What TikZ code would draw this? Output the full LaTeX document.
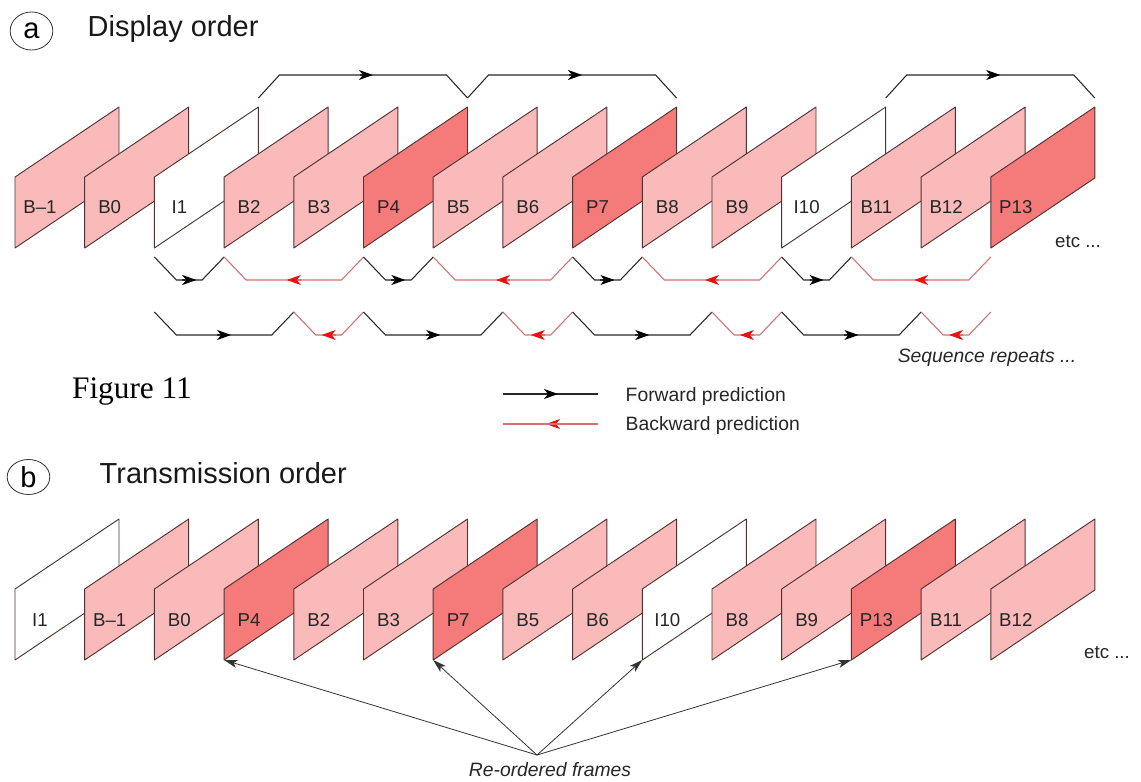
\documentclass[tikz,border=0pt]{standalone}
\usepackage{fontspec}
\setmainfont{Liberation Sans}
\newfontfamily\figfont{Liberation Serif}
\usetikzlibrary{arrows.meta,calc,shapes.geometric}

\definecolor{bfill}{RGB}{250,186,186}
\definecolor{pfill}{RGB}{245,122,122}
\definecolor{fedge}{RGB}{80,50,50}
\definecolor{fwdline}{RGB}{40,40,40}
\definecolor{bwdline}{RGB}{212,112,112}
\definecolor{bwdtip}{RGB}{228,18,18}

\tikzset{
  frame/.style={draw=fedge, line width=0.7pt, line join=round},
  flabel/.style={font=\fontsize{14}{14}\selectfont, text=black!85},
  small/.style={font=\fontsize{14.5}{14.5}\selectfont, text=black!85},
  title/.style={font=\fontsize{21.75}{22}\selectfont, text=black!90, anchor=west},
  tag/.style={draw=black!80, line width=0.6pt, ellipse, inner sep=0pt,
    minimum width=32pt, font=\fontsize{21.75}{22}\selectfont},
  fwd/.style={draw=fwdline, line width=0.8pt},
  bwd/.style={draw=bwdline, line width=0.8pt},
  fwdtip/.style={fwd, -{Stealth[length=10.5pt, width=7.5pt, inset=3pt, color=black]}},
  bwdtip/.style={bwd, {Stealth[length=10.5pt, width=7.5pt, inset=3pt, color=bwdtip]}-},
  reorder/.style={draw=black!80, line width=0.6pt, -{Stealth[length=10pt, width=6pt, inset=2.5pt]}}
}

\begin{document}
\begin{tikzpicture}[x=0.75pt, y=-0.75pt]
  \useasboundingbox (0,0) rectangle (1141,781);

  % (a) display order
  \node[tag, minimum height=28.5pt] (taga) at (31.5,31) {a};
  \node[title] (titlea) at (83,29) {Display order};
  \foreach \lab/\col [count=\i from 0] in {B\textendash1/bfill, B0/bfill, I1/white, B2/bfill, B3/bfill, P4/pfill, B5/bfill, B6/bfill, P7/pfill, B8/bfill, B9/bfill, I10/white, B11/bfill, B12/bfill, P13/pfill} {
    \pgfmathsetmacro\fx{15+69.7*\i}
    \filldraw[frame, fill=\col] (\fx,248) -- ++(0,-71) -- ++(104,-70) -- ++(0,71) -- cycle;
    \node[flabel] (a\i) at (\fx+25,207) {\lab};
    \coordinate (ta\i) at (\fx+104,98);
    \coordinate (pa\i) at (\fx,257);
    \coordinate (qa\i) at (\fx,312);
  }
  \node[flabel] (etca) at (1078,242) {etc ...};

  % forward jumps over the top
  \foreach \s/\e in {2/5, 5/8, 11/14} {
    \draw[fwd] (ta\s) -- ++(21,-23) -- ($(ta\e)+(-21,-23)$) -- (ta\e);
    \draw[fwdtip] ($(ta\s)!0.5!(ta\e)+(-3,-23)$) -- ($(ta\s)!0.5!(ta\e)+(10,-23)$);
  }

  % prediction rows
  \foreach \r/\s/\e/\k in {pa/2/3/fwd, pa/3/5/bwd, pa/5/6/fwd, pa/6/8/bwd, pa/8/9/fwd, pa/9/11/bwd, pa/11/12/fwd, pa/12/14/bwd,
                           qa/2/4/fwd, qa/4/5/bwd, qa/5/7/fwd, qa/7/8/bwd, qa/8/10/fwd, qa/10/11/bwd, qa/11/13/fwd, qa/13/14/bwd} {
    \draw[\k] (\r\s) -- ++(22,23) -- ($(\r\e)+(-22,23)$) -- (\r\e);
    \draw[\k tip] ($(\r\s)!0.5!(\r\e)+(-7,23)$) -- ($(\r\s)!0.5!(\r\e)+(7,23)$);
  }
  \node[small, font=\fontsize{14.5}{14.5}\selectfont\itshape] (seq) at (987,358) {Sequence repeats ...};

  \node[font=\figfont\fontsize{23.5}{24}\selectfont] (fig) at (132,392) {Figure 11};

  % legend
  \coordinate (lf0) at (503,394);
  \coordinate (lf1) at (598,394);
  \coordinate (lb0) at (503,424);
  \coordinate (lb1) at (598,424);
  \draw[fwd] (lf0) -- (lf1);
  \draw[fwdtip] ($(lf0)+(40,0)$) -- ($(lf0)+(55,0)$);
  \draw[bwdtip] ($(lb0)+(43,0)$) -- ($(lb0)+(58,0)$);
  \draw[bwd] (lb0) -- (lb1);
  \node[small, anchor=west] (lfwd) at (621,396) {Forward prediction};
  \node[small, anchor=west] (lbwd) at (621,425) {Backward prediction};

  % (b) transmission order
  \node[tag, minimum height=26.25pt] (tagb) at (28.5,477) {b};
  \node[title] (titleb) at (95,473) {Transmission order};
  \foreach \lab/\col [count=\i from 0] in {I1/white, B\textendash1/bfill, B0/bfill, P4/pfill, B2/bfill, B3/bfill, P7/pfill, B5/bfill, B6/bfill, I10/white, B8/bfill, B9/bfill, P13/pfill, B11/bfill, B12/bfill} {
    \pgfmathsetmacro\fx{15+69.7*\i}
    \filldraw[frame, fill=\col] (\fx,660) -- ++(0,-71) -- ++(104,-70) -- ++(0,71) -- cycle;
    \node[flabel] (b\i l) at (\fx+25,620) {\lab};
    \coordinate (b\i) at (\fx,660);
  }
  \node[flabel] (etcb) at (1107,653) {etc ...};

  \coordinate (hub) at (537,755);
  \foreach \t in {3,6,9,12}
    \draw[reorder] (hub) -- (b\t);
  \node[small, font=\fontsize{14.5}{14.5}\selectfont\itshape] (reord) at (550,770) {Re-ordered frames};
\end{tikzpicture}
\end{document}
